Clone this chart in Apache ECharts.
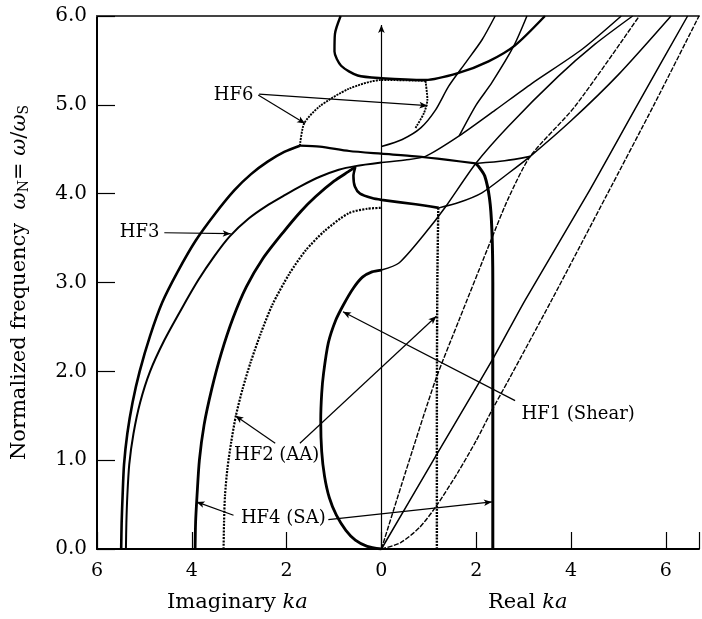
<!DOCTYPE html>
<html><head><meta charset="utf-8">
<script src="https://cdn.jsdelivr.net/npm/echarts/dist/echarts.min.js"></script>
<style>html,body{margin:0;padding:0;background:#fff}#c{width:702px;height:619px}</style>
</head><body><div id="c"></div>
<script>
// ---- axis ticks ----
const xTickValues = [-6, -4, -2, 0, 2, 4, 6];
const yTickLabels = ['0.0', '1.0', '2.0', '3.0', '4.0', '5.0', '6.0'];

// ---- curves (x < 0 : imaginary ka, x > 0 : real ka ; y : normalized frequency) ----
const imagOuter = [[-5.49,0],[-5.48,0.3],[-5.46,0.6],[-5.43,0.95],[-5.36,1.3],[-5.25,1.65],[-5.1,2.0],[-4.88,2.4],[-4.62,2.78],[-4.3,3.12],[-3.92,3.47],[-3.5,3.78],[-3.1,4.04],[-2.75,4.22],[-2.4,4.36],[-2.05,4.47],[-1.72,4.54]];
const outerTop = [[-1.72,4.54],[-1.3,4.53],[-0.68,4.48],[0,4.45],[0.72,4.42],[1.4,4.38],[1.99,4.34]];
const cornerToNode = [[1.99,4.34],[2.6,4.37],[3.14,4.42]];
const imagSecond = [[-5.39,0],[-5.38,0.3],[-5.36,0.6],[-5.32,0.95],[-5.23,1.3],[-5.09,1.65],[-4.88,2.0],[-4.58,2.35],[-4.22,2.7],[-3.86,3.03],[-3.52,3.3],[-3.2,3.52],[-2.8,3.72],[-2.43,3.86],[-2.05,3.98],[-1.72,4.08],[-1.3,4.19],[-0.9,4.27],[-0.55,4.31],[0,4.35]];
const imagSA = [[-3.93,0],[-3.92,0.3],[-3.89,0.6],[-3.84,1.0],[-3.74,1.4],[-3.58,1.8],[-3.38,2.2],[-3.13,2.6],[-2.85,2.95],[-2.5,3.27],[-2.08,3.56],[-1.7,3.8],[-1.38,3.97],[-1.0,4.14],[-0.69,4.25],[-0.55,4.3]];
const saLoop = [[-0.55,4.3],[-0.59,4.2],[-0.56,4.08],[-0.45,4.0],[-0.2,3.95],[0,3.93],[0.72,3.88],[1.21,3.84]];
const saLoopRight = [[1.21,3.84],[1.63,3.9],[2.12,4.01],[2.68,4.23],[3.14,4.42],[4.0,4.82],[5.0,5.34],[6.11,6.0]];
const realSA = [[2.35,0],[2.35,1.5],[2.35,3.0],[2.33,3.6],[2.28,3.95],[2.18,4.2],[2.06,4.3],[1.99,4.34]];
const imagAA = [[-3.33,0],[-3.32,0.3],[-3.3,0.6],[-3.25,0.9],[-3.17,1.2],[-3.07,1.5],[-2.93,1.8],[-2.76,2.1],[-2.55,2.42],[-2.3,2.75],[-1.94,3.1],[-1.6,3.36],[-1.2,3.58],[-0.69,3.78],[-0.3,3.83],[0,3.84]];
const realAA = [[1.17,0],[1.17,1.5],[1.18,3.0],[1.2,3.84]];
const shearEllipse = [[0,0],[-0.3,0.03],[-0.55,0.1],[-0.75,0.21],[-0.95,0.38],[-1.1,0.58],[-1.2,0.82],[-1.26,1.1],[-1.28,1.45],[-1.26,1.75],[-1.22,1.98],[-1.12,2.32],[-0.96,2.58],[-0.8,2.75],[-0.6,2.93],[-0.4,3.06],[-0.2,3.12],[0,3.14]];
const shearReal = [[0,3.14],[0.37,3.22],[0.93,3.56],[1.35,3.85],[1.99,4.34],[2.68,4.76],[3.73,5.32],[4.5,5.68],[5.3,6.0]];
const hf6Loop = [[-1.72,4.54],[-1.63,4.79],[-1.31,4.98],[-0.69,5.18],[0,5.28],[0.93,5.27]];
const hf6LoopRight = [[0.93,5.27],[0.97,5.06],[0.9,4.91],[0.72,4.74]];
const topC = [[-0.86,6.0],[-0.98,5.8],[-0.99,5.6],[-0.85,5.44],[-0.5,5.33],[0,5.3],[0.93,5.28],[1.63,5.36],[2.26,5.49],[2.82,5.67],[3.45,6.0]];
const cutoffLine = [[0,4.53],[0.44,4.61],[0.83,4.74],[1.14,4.94],[1.42,5.21],[1.77,5.47],[2.12,5.73],[2.4,6.0]];
const upperLine = [[1.64,4.65],[2.0,5.0],[2.33,5.25],[2.79,5.66],[3.07,6.0]];
const innerLine = [[0,4.35],[0.5,4.38],[0.93,4.42],[1.64,4.65],[2.4,4.94],[3.17,5.24],[4.22,5.62],[5.06,6.0]];
const realA = [[0,0],[0.5,0.85],[1.14,1.9],[1.64,2.58],[2.33,3.5],[2.68,3.95],[3.14,4.42],[4.08,4.98],[5.44,6.0]];
const realB = [[0,0],[1.14,1.04],[2.33,2.12],[3.03,2.8],[4.33,3.98],[5.4,5.0],[6.46,6.0]];
const realC = [[0,0],[0.4,0.07],[0.8,0.24],[1.14,0.47],[1.6,0.85],[2.0,1.22],[2.33,1.56],[2.68,1.9],[3.59,2.8],[4.75,3.98],[5.75,5.0],[6.7,6.0]];

// ---- annotations ----
const labelTexts = ['HF6', 'HF3', 'HF2 (AA)', 'HF4 (SA)', 'HF1 (Shear)'];
const labelAnchors = [[-3.12,5.11],[-5.1,3.57],[-2.21,1.06],[-2.07,0.34],[4.15,1.52]];
const pointerLines = [
  [[-2.6,5.11],[-1.61,4.79]],
  [[-2.58,5.12],[0.97,4.99]],
  [[-4.58,3.56],[-3.18,3.55]],
  [[-2.24,1.19],[-3.08,1.5]],
  [[-1.72,1.19],[1.16,2.62]],
  [[-3.12,0.38],[-3.9,0.53]],
  [[-1.12,0.33],[2.33,0.53]],
  [[2.82,1.67],[-0.81,2.67]]
];
const zeroAxisLine = [[0,0],[0,5.9]];

const BLACK = '#000';
const SERIF = 'DejaVu Serif';
function curve(data, width, type) {
  return { type: 'line', data: data, showSymbol: false, smooth: 0.25, silent: true,
    lineStyle: { color: BLACK, width: width, type: type || 'solid' }, z: 3 };
}

const series = [
  curve(imagOuter, 2.6), curve(outerTop, 2.2), curve(cornerToNode, 1.6), curve(imagSecond, 2.0), curve(imagSA, 2.8),
  curve(saLoop, 2.6), curve(saLoopRight, 1.5), curve(realSA, 3.0),
  curve(imagAA, 2.2, [2, 1.3]), curve(realAA, 2.4, [2, 1.2]),
  curve(shearEllipse, 2.8), curve(shearReal, 1.5),
  curve(hf6Loop, 1.9, [2, 1]), curve(hf6LoopRight, 1.9, [2, 1]),
  curve(topC, 2.4), curve(cutoffLine, 1.5), curve(upperLine, 1.5), curve(innerLine, 1.5),
  curve(realA, 1.4, [5, 1.5]), curve(realB, 1.5), curve(realC, 1.4, [5, 1.5]),
  {
    type: 'line', data: [], silent: true,
    markLine: {
      silent: true, animation: false, symbol: ['none', 'arrow'], symbolSize: [5, 8],
      lineStyle: { color: BLACK, width: 1.2, type: 'solid', opacity: 1 }, label: { show: false },
      data: pointerLines.map(p => [{ coord: p[0] }, { coord: p[1] }])
        .concat([[{ coord: zeroAxisLine[0], symbol: 'none' }, { coord: zeroAxisLine[1] }]])
    }
  },
  {
    type: 'scatter', symbolSize: 0, silent: true, itemStyle: { color: BLACK, opacity: 1 },
    data: labelTexts.map((t, i) => ({ name: t, value: labelAnchors[i] })),
    label: { show: true, position: 'inside', formatter: '{b}', color: BLACK, opacity: 1,
      textBorderWidth: 0, textBorderColor: 'transparent',
      fontFamily: SERIF, fontSize: 18 }
  }
];

const titleRich = {
  t: { fontFamily: SERIF, fontSize: 21, color: BLACK, fill: BLACK },
  i: { fontFamily: SERIF, fontSize: 21, fontStyle: 'italic', color: BLACK, fill: BLACK }
};

const chart = echarts.init(document.getElementById('c'), null, { renderer: 'canvas' });
chart.setOption({
  animation: false,
  backgroundColor: '#fff',
  grid: { left: 97, right: 0, top: 16, bottom: 70, containLabel: false },
  xAxis: [{
    type: 'value', min: -6, max: 6.7, interval: 2,
    axisLine: { show: true, onZero: false, lineStyle: { color: BLACK, width: 2 } },
    axisTick: { show: true, inside: true, length: 17, lineStyle: { color: BLACK, width: 1.2 } },
    axisLabel: { color: BLACK, fontFamily: SERIF, fontSize: 19, margin: 13,
      formatter: v => xTickValues.indexOf(v) >= 0 ? String(Math.abs(v)) : '' },
    splitLine: { show: false }
  }, {
    type: 'value', position: 'top', min: -6, max: 6.7,
    axisLine: { show: true, onZero: false, lineStyle: { color: '#444', width: 2 } },
    axisTick: { show: false }, axisLabel: { show: false }, splitLine: { show: false }
  }],
  yAxis: {
    type: 'value', min: 0, max: 6, interval: 1,
    axisLine: { show: true, onZero: false, lineStyle: { color: BLACK, width: 2 } },
    axisTick: { show: true, inside: true, length: 18, lineStyle: { color: BLACK, width: 1.2 } },
    axisLabel: { color: BLACK, fontFamily: SERIF, fontSize: 20, margin: 10,
      formatter: v => yTickLabels[Math.round(v)] },
    splitLine: { show: false },
    name: '{t|Normalized frequency  }{w|ω}{s|N}{t|= }{w|ω}{t|/}{w|ω}{s|S}',
    nameLocation: 'middle', nameGap: 66, nameRotate: 90,
    nameTextStyle: {
      rich: {
        t: { fontFamily: SERIF, fontSize: 21, color: BLACK },
        w: { fontFamily: SERIF, fontSize: 21, fontStyle: 'italic', color: BLACK },
        s: { fontFamily: SERIF, fontSize: 14, color: BLACK, verticalAlign: 'bottom', padding: [9, 0, 0, 0] }
      }
    }
  },
  graphic: [
    { type: 'text', left: 167, top: 592, style: { rich: titleRich, text: '{t|Imaginary }{i|ka}' } },
    { type: 'text', left: 488, top: 592, style: { rich: titleRich, text: '{t|Real }{i|ka}' } }
  ],
  series: series
});
</script></body></html>
